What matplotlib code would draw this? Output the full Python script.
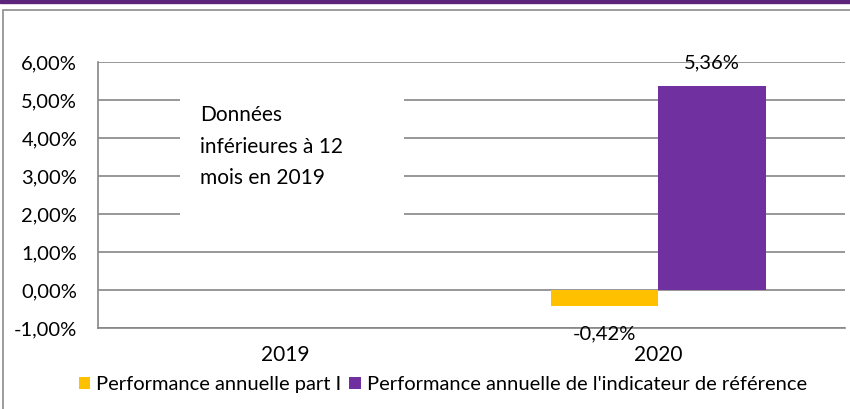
import matplotlib.pyplot as plt
import matplotlib.patches as mpatches
import numpy as np
from matplotlib.ticker import FuncFormatter

# Données
annees = ['2019', '2020']
perf_part = [np.nan, -0.42]
perf_indicateur = [np.nan, 5.36]
noms_series = ['Performance annuelle part I',
               "Performance annuelle de l'indicateur de référence"]
note = 'Données\ninférieures à 12\nmois en 2019'

jaune = '#FFC000'
violet = '#7030A0'
gris = '#868686'

plt.rcParams['font.family'] = ['Lato', 'DejaVu Sans']

fig = plt.figure(figsize=(8.5, 4.09), dpi=100)

# bandeau violet en haut + cadre gris
fig.patches.append(mpatches.Rectangle((0, 0.993), 1, 0.007, transform=fig.transFigure,
                                      color='#5C2479', zorder=0))
fig.patches.append(mpatches.Rectangle((0.004, -0.1), 1.2, 1.075, transform=fig.transFigure,
                                      fill=False, edgecolor='#8c8c8c', linewidth=1.2))

ax = fig.add_axes([0.1153, 0.198, 0.879, 0.650])

x = np.arange(len(annees))
w = 0.287
ax.bar(x - w / 2, perf_part, w, color=jaune, label=noms_series[0], zorder=2)
ax.bar(x + w / 2, perf_indicateur, w, color=violet, label=noms_series[1], zorder=2)

# étiquettes de valeurs
for xi, v in zip(x, perf_part):
    if not np.isnan(v):
        ax.annotate(f'{v:.2f}%'.replace('.', ','), (xi - w / 2, v), xytext=(0, -14),
                    textcoords='offset points', ha='center', va='top', fontsize=14.5)
for xi, v in zip(x, perf_indicateur):
    if not np.isnan(v):
        ax.annotate(f'{v:.2f}%'.replace('.', ','), (xi + w / 2, v), xytext=(0, 11),
                    textcoords='offset points', ha='center', va='bottom', fontsize=14.5)

ax.set_xlim(-0.5, 1.5)
ax.set_ylim(-1, 6)
ax.set_yticks(range(-1, 7))
ax.yaxis.set_major_formatter(FuncFormatter(lambda v, p: f'{v:.2f}%'.replace('.', ',')))
ax.set_xticks(x)
ax.set_xticklabels(annees)
ax.tick_params(axis='both', length=0, labelsize=14.5, colors='black')
ax.tick_params(axis='y', pad=15)
ax.tick_params(axis='x', pad=12, labelsize=15)

ax.set_axisbelow(True)
ax.yaxis.grid(True, color=gris, linewidth=1.2)
for s in ['top', 'right']:
    ax.spines[s].set_visible(False)
for s in ['left', 'bottom']:
    ax.spines[s].set_color(gris)
    ax.spines[s].set_linewidth(1.2)

# encadré blanc avec la note
ax.add_patch(mpatches.Rectangle((0.11, 0.33), 0.30, 0.64, transform=ax.transAxes,
                                facecolor='white', edgecolor='none', zorder=1))
ax.text(0.137, 0.838, note, transform=ax.transAxes, ha='left', va='top',
        multialignment='left', fontsize=15, linespacing=1.72, zorder=3)

fig.legend(loc='center', bbox_to_anchor=(0.521, 0.059), ncol=2, frameon=False,
           fontsize=14.5, handlelength=0.55, handleheight=0.55, handletextpad=0.3,
           columnspacing=0.4)

fig.savefig('out.png', dpi=100)
